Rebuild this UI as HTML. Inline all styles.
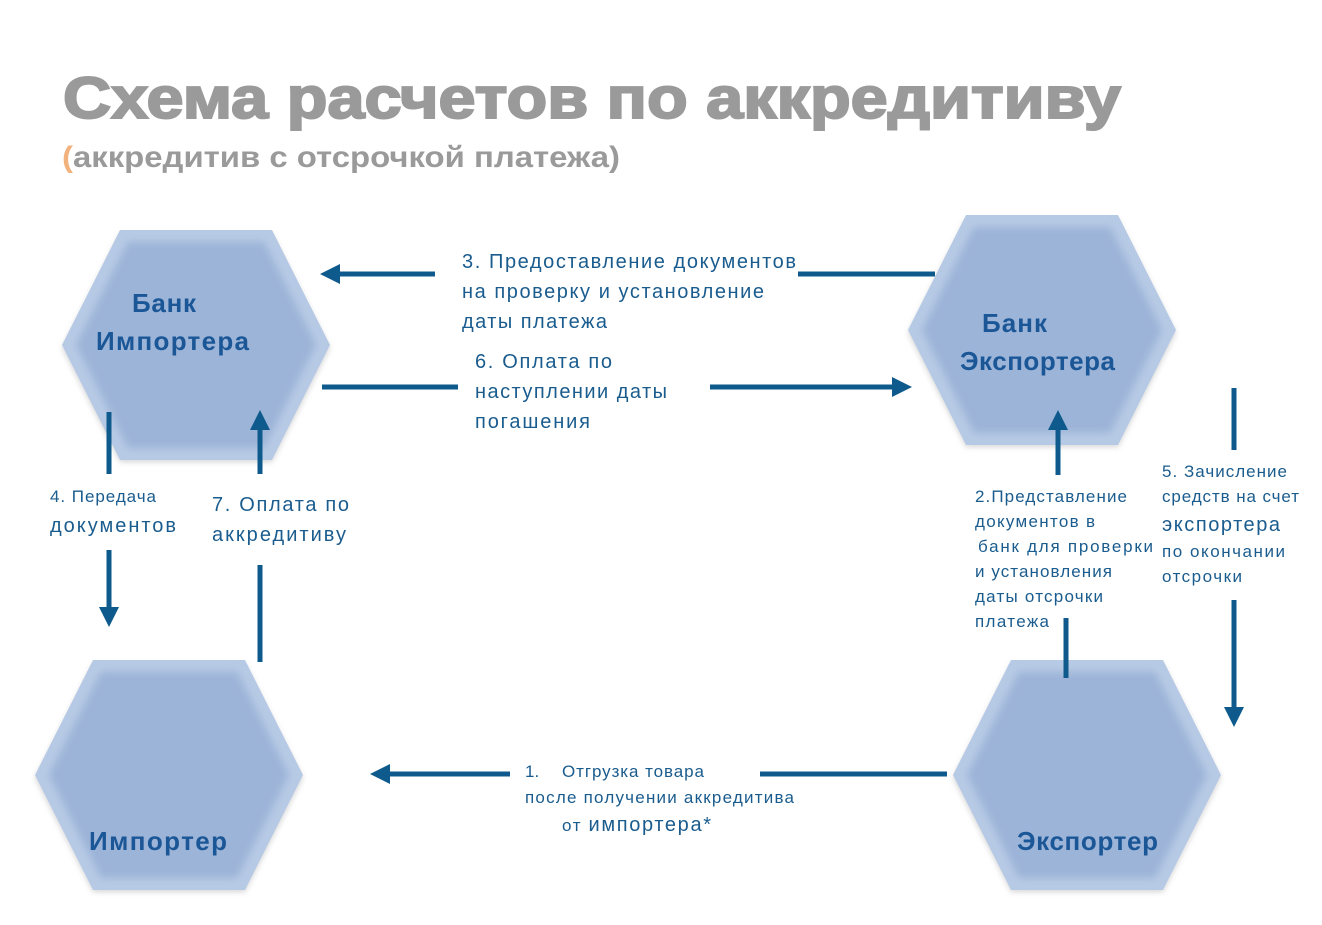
<!DOCTYPE html>
<html><head><meta charset="utf-8"><style>
html,body{margin:0;padding:0;background:#fff;}
svg{display:block;}
text{font-family:"Liberation Sans","DejaVu Sans",sans-serif;}
</style></head><body>
<svg width="1322" height="925" viewBox="0 0 1322 925" xmlns="http://www.w3.org/2000/svg">
<defs>
<filter id="b" x="-10%" y="-10%" width="120%" height="120%"><feGaussianBlur stdDeviation="4"/></filter>
<filter id="sh" x="-10%" y="-10%" width="120%" height="130%"><feGaussianBlur stdDeviation="3"/></filter>
<marker id="ah" viewBox="0 0 10 10" refX="2" refY="5" markerWidth="4" markerHeight="4" orient="auto" markerUnits="strokeWidth"><path d="M0,0 L10,5 L0,10 z" fill="#0f5a8c"/></marker>
</defs>
<text x="63" y="118" font-size="58" font-weight="bold" fill="#9a9a9a" stroke="#9a9a9a" stroke-width="2" textLength="1058" lengthAdjust="spacingAndGlyphs">Схема расчетов по аккредитиву</text>
<text x="62" y="167" font-size="30" font-weight="bold" fill="#9a9a9a" textLength="558" lengthAdjust="spacingAndGlyphs"><tspan fill="#f2b27e">(</tspan>аккредитив с отсрочкой платежа)</text>

<g>
<g transform="translate(62,230)">
<polygon points="58,4 210,4 268,118 210,232 58,232 0,118" fill="#8a8a8a" opacity=".35" filter="url(#sh)"/>
<polygon points="58,0 210,0 268,115 210,230 58,230 0,115" fill="#b7cae5"/>
<polygon points="66,12 202,12 254,115 202,218 66,218 14,115" fill="#9cb4d8" filter="url(#b)"/>
</g>
<g transform="translate(908,215)">
<polygon points="58,4 210,4 268,118 210,232 58,232 0,118" fill="#8a8a8a" opacity=".35" filter="url(#sh)"/>
<polygon points="58,0 210,0 268,115 210,230 58,230 0,115" fill="#b7cae5"/>
<polygon points="66,12 202,12 254,115 202,218 66,218 14,115" fill="#9cb4d8" filter="url(#b)"/>
</g>
<g transform="translate(35,660)">
<polygon points="58,4 210,4 268,118 210,232 58,232 0,118" fill="#8a8a8a" opacity=".35" filter="url(#sh)"/>
<polygon points="58,0 210,0 268,115 210,230 58,230 0,115" fill="#b7cae5"/>
<polygon points="66,12 202,12 254,115 202,218 66,218 14,115" fill="#9cb4d8" filter="url(#b)"/>
</g>
<g transform="translate(953,660)">
<polygon points="58,4 210,4 268,118 210,232 58,232 0,118" fill="#8a8a8a" opacity=".35" filter="url(#sh)"/>
<polygon points="58,0 210,0 268,115 210,230 58,230 0,115" fill="#b7cae5"/>
<polygon points="66,12 202,12 254,115 202,218 66,218 14,115" fill="#9cb4d8" filter="url(#b)"/>
</g>
</g>

<g font-weight="bold" fill="#1b5797" font-size="26" lengthAdjust="spacingAndGlyphs">
<text x="132" y="312" textLength="64">Банк</text>
<text x="96" y="350" textLength="153">Импортера</text>
<text x="982" y="332" textLength="65">Банк</text>
<text x="960" y="370" textLength="155">Экспортера</text>
<text x="89" y="850" textLength="138">Импортер</text>
<text x="1017" y="850" textLength="141">Экспортер</text>
</g>

<g stroke="#0f5a8c" stroke-width="5" fill="none">
<line x1="935" y1="274" x2="798" y2="274"/>
<line x1="435" y1="274" x2="336" y2="274" marker-end="url(#ah)"/>
<line x1="322" y1="387" x2="458" y2="387"/>
<line x1="710" y1="387" x2="896" y2="387" marker-end="url(#ah)"/>
<line x1="109" y1="412" x2="109" y2="474"/>
<line x1="109" y1="550" x2="109" y2="611" marker-end="url(#ah)"/>
<line x1="260" y1="662" x2="260" y2="565"/>
<line x1="260" y1="474" x2="260" y2="426" marker-end="url(#ah)"/>
<line x1="1066" y1="678" x2="1066" y2="618"/>
<line x1="1058" y1="475" x2="1058" y2="426" marker-end="url(#ah)"/>
<line x1="1234" y1="388" x2="1234" y2="450"/>
<line x1="1234" y1="600" x2="1234" y2="711" marker-end="url(#ah)"/>
<line x1="947" y1="774" x2="760" y2="774"/>
<line x1="510" y1="774" x2="386" y2="774" marker-end="url(#ah)"/>
</g>

<g fill="#1a5c8e" font-size="20" lengthAdjust="spacingAndGlyphs">
<text x="462" y="268" textLength="334">3. Предоставление документов</text>
<text x="462" y="298" textLength="302">на проверку и установление</text>
<text x="462" y="328" textLength="145">даты платежа</text>
<text x="475" y="368" textLength="137">6. Оплата  по</text>
<text x="475" y="398" textLength="192">наступлении даты</text>
<text x="475" y="428" textLength="115">погашения</text>
<text x="212" y="511" textLength="137">7.  Оплата по</text>
<text x="212" y="541" textLength="134">аккредитиву</text>
<text x="50" y="532" textLength="126">документов</text>
</g>
<g fill="#1a5c8e" font-size="17" lengthAdjust="spacingAndGlyphs">
<text x="50" y="502" textLength="106">4. Передача</text>
<text x="975" y="502" textLength="152">2.Представление</text>
<text x="975" y="527" textLength="120">документов в</text>
<text x="978" y="552" textLength="175">банк  для проверки</text>
<text x="975" y="577" textLength="137">и установления</text>
<text x="975" y="602" textLength="128">даты отсрочки</text>
<text x="975" y="627" textLength="74">платежа</text>
<text x="1162" y="477" textLength="125">5. Зачисление</text>
<text x="1162" y="502" textLength="137">средств на счет</text>
<text x="1162" y="531" font-size="20" textLength="118">экспортера</text>
<text x="1162" y="557" textLength="123">по окончании</text>
<text x="1162" y="582" textLength="80">отсрочки</text>
<text x="525" y="777">1.</text>
<text x="562" y="777" textLength="142">Отгрузка товара</text>
<text x="525" y="803" textLength="269">после получении аккредитива</text>
<text x="562" y="831" textLength="149">от <tspan font-size="20">импортера*</tspan></text>
</g>
</svg>
</body></html>
